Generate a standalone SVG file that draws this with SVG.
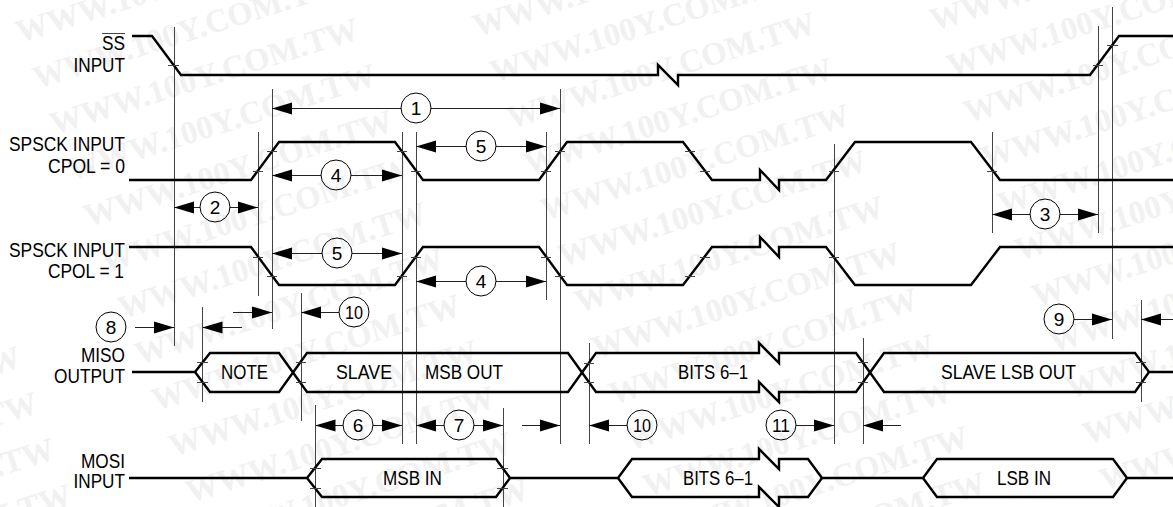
<svg xmlns="http://www.w3.org/2000/svg" width="1173" height="507" viewBox="0 0 1173 507">
<style>
.wm{font:bold 32.5px "Liberation Serif",serif;fill:#f1f1f1}
.wave{fill:none;stroke:#000;stroke-width:2.4;stroke-linejoin:miter}
.ext{fill:none;stroke:#444;stroke-width:1;shape-rendering:crispEdges}
.tick{fill:none;stroke:#444;stroke-width:1;shape-rendering:crispEdges}
.dim{fill:none;stroke:#222;stroke-width:1}
.lab{font:19.5px "Liberation Sans",Arial,sans-serif;fill:#000}
.num{font:19px "Liberation Sans",Arial,sans-serif;fill:#000;text-anchor:middle}
.num2{font:19px "Liberation Sans",Arial,sans-serif;fill:#000}
.bub{fill:#fff;fill-opacity:0;stroke:#000;stroke-width:1}
</style>
<defs>
<marker id="ah" markerUnits="userSpaceOnUse" markerWidth="20" markerHeight="14" refX="20" refY="7" orient="auto-start-reverse"><polygon points="0,1 20,7 0,13" fill="#000"/></marker>
</defs>
<rect width="1173" height="507" fill="#fff"/>
<g id="watermark">
<text class="wm" transform="translate(20,43) rotate(-17.500)">WWW.100Y.COM.TW</text>
<text class="wm" transform="translate(37,89) rotate(-17.500)">WWW.100Y.COM.TW</text>
<text class="wm" transform="translate(54,135) rotate(-17.500)">WWW.100Y.COM.TW</text>
<text class="wm" transform="translate(71,181) rotate(-17.500)">WWW.100Y.COM.TW</text>
<text class="wm" transform="translate(88,227) rotate(-17.500)">WWW.100Y.COM.TW</text>
<text class="wm" transform="translate(105,273) rotate(-17.500)">WWW.100Y.COM.TW</text>
<text class="wm" transform="translate(122,319) rotate(-17.500)">WWW.100Y.COM.TW</text>
<text class="wm" transform="translate(139,365) rotate(-17.500)">WWW.100Y.COM.TW</text>
<text class="wm" transform="translate(156,411) rotate(-17.500)">WWW.100Y.COM.TW</text>
<text class="wm" transform="translate(173,457) rotate(-17.500)">WWW.100Y.COM.TW</text>
<text class="wm" transform="translate(190,503) rotate(-17.500)">WWW.100Y.COM.TW</text>
<text class="wm" transform="translate(207,549) rotate(-17.500)">WWW.100Y.COM.TW</text>
<text class="wm" transform="translate(224,595) rotate(-17.500)">WWW.100Y.COM.TW</text>
<text class="wm" transform="translate(477,37) rotate(-17.500)">WWW.100Y.COM.TW</text>
<text class="wm" transform="translate(494,83) rotate(-17.500)">WWW.100Y.COM.TW</text>
<text class="wm" transform="translate(511,129) rotate(-17.500)">WWW.100Y.COM.TW</text>
<text class="wm" transform="translate(528,175) rotate(-17.500)">WWW.100Y.COM.TW</text>
<text class="wm" transform="translate(545,221) rotate(-17.500)">WWW.100Y.COM.TW</text>
<text class="wm" transform="translate(562,267) rotate(-17.500)">WWW.100Y.COM.TW</text>
<text class="wm" transform="translate(579,313) rotate(-17.500)">WWW.100Y.COM.TW</text>
<text class="wm" transform="translate(596,359) rotate(-17.500)">WWW.100Y.COM.TW</text>
<text class="wm" transform="translate(613,405) rotate(-17.500)">WWW.100Y.COM.TW</text>
<text class="wm" transform="translate(630,451) rotate(-17.500)">WWW.100Y.COM.TW</text>
<text class="wm" transform="translate(647,497) rotate(-17.500)">WWW.100Y.COM.TW</text>
<text class="wm" transform="translate(664,543) rotate(-17.500)">WWW.100Y.COM.TW</text>
<text class="wm" transform="translate(681,589) rotate(-17.500)">WWW.100Y.COM.TW</text>
<text class="wm" transform="translate(934,31) rotate(-17.500)">WWW.100Y.COM.TW</text>
<text class="wm" transform="translate(951,77) rotate(-17.500)">WWW.100Y.COM.TW</text>
<text class="wm" transform="translate(968,123) rotate(-17.500)">WWW.100Y.COM.TW</text>
<text class="wm" transform="translate(985,169) rotate(-17.500)">WWW.100Y.COM.TW</text>
<text class="wm" transform="translate(1002,215) rotate(-17.500)">WWW.100Y.COM.TW</text>
<text class="wm" transform="translate(1019,261) rotate(-17.500)">WWW.100Y.COM.TW</text>
<text class="wm" transform="translate(1036,307) rotate(-17.500)">WWW.100Y.COM.TW</text>
<text class="wm" transform="translate(1053,353) rotate(-17.500)">WWW.100Y.COM.TW</text>
<text class="wm" transform="translate(1070,399) rotate(-17.500)">WWW.100Y.COM.TW</text>
<text class="wm" transform="translate(1087,445) rotate(-17.500)">WWW.100Y.COM.TW</text>
<text class="wm" transform="translate(1104,491) rotate(-17.500)">WWW.100Y.COM.TW</text>
<text class="wm" transform="translate(-301,417) rotate(-17.500)">WWW.100Y.COM.TW</text>
<text class="wm" transform="translate(-284,463) rotate(-17.500)">WWW.100Y.COM.TW</text>
<text class="wm" transform="translate(-267,509) rotate(-17.500)">WWW.100Y.COM.TW</text>
<text class="wm" transform="translate(-250,555) rotate(-17.500)">WWW.100Y.COM.TW</text>
<text class="wm" transform="translate(-233,601) rotate(-17.500)">WWW.100Y.COM.TW</text>
</g>
<g id="connectors">
<path class="ext" d="M174 27V346M258 132V296M272 89V329M202.500 307V402M301 293V421M315.500 405V507M402 132V444M416 132V444M546 132V300M560 89V444M503 408V507M589 343V444M834 144V444M863 338V444M992 132V233M1098 26V233M1112 7V339M1141 300V402"/>
<g class="dim">
<path marker-end="url(#ah)" d="M401 108.500H272"/><path marker-end="url(#ah)" d="M431 108.500H560"/>
<path marker-end="url(#ah)" d="M200 207.500H174"/><path marker-end="url(#ah)" d="M230 207.500H258"/>
<path marker-end="url(#ah)" d="M321 175.500H272"/><path marker-end="url(#ah)" d="M351 175.500H402"/>
<path marker-end="url(#ah)" d="M466 146.500H416"/><path marker-end="url(#ah)" d="M496 146.500H546"/>
<path marker-end="url(#ah)" d="M322 253.500H272"/><path marker-end="url(#ah)" d="M352 253.500H402"/>
<path marker-end="url(#ah)" d="M466 281.500H416"/><path marker-end="url(#ah)" d="M496 281.500H546"/>
<path marker-end="url(#ah)" d="M1030 214.500H992"/><path marker-end="url(#ah)" d="M1060 214.500H1098"/>
<path marker-end="url(#ah)" d="M135 327.500H174"/><path marker-end="url(#ah)" d="M242 327.500H202.500"/>
<path marker-end="url(#ah)" d="M233 312.500H272"/><path marker-end="url(#ah)" d="M339 312.500H301"/>
<path marker-end="url(#ah)" d="M1074 319.500H1112"/><path marker-end="url(#ah)" d="M1173 319.500H1141"/>
<path marker-end="url(#ah)" d="M343 425.500H315.500"/><path marker-end="url(#ah)" d="M373 425.500H402"/>
<path marker-end="url(#ah)" d="M444 425.500H416"/><path marker-end="url(#ah)" d="M474 425.500H503"/>
<path marker-end="url(#ah)" d="M522 425.500H560"/><path marker-end="url(#ah)" d="M627 425.500H589"/>
<path marker-end="url(#ah)" d="M796 425.500H834"/><path marker-end="url(#ah)" d="M901 425.500H863"/>
</g>
<g id="dimension-labels">
<circle class="bub" cx="416" cy="108" r="15"/><text class="num" x="416" y="115">1</text>
<circle class="bub" cx="215" cy="207" r="15"/><text class="num" x="215" y="214">2</text>
<circle class="bub" cx="1045" cy="214" r="15"/><text class="num" x="1045" y="221">3</text>
<circle class="bub" cx="336" cy="175" r="15"/><text class="num" x="336" y="182">4</text>
<circle class="bub" cx="481" cy="146" r="15"/><text class="num" x="481" y="153">5</text>
<circle class="bub" cx="337" cy="253" r="15"/><text class="num" x="337" y="260">5</text>
<circle class="bub" cx="481" cy="281" r="15"/><text class="num" x="481" y="288">4</text>
<circle class="bub" cx="111" cy="327" r="15"/><text class="num" x="111" y="334">8</text>
<circle class="bub" cx="354" cy="312" r="15"/><text class="num2" x="345" y="319" textLength="18" lengthAdjust="spacingAndGlyphs">10</text>
<circle class="bub" cx="1059" cy="319" r="15"/><text class="num" x="1059" y="326">9</text>
<circle class="bub" cx="358" cy="425" r="15"/><text class="num" x="358" y="432">6</text>
<circle class="bub" cx="459" cy="425" r="15"/><text class="num" x="459" y="432">7</text>
<circle class="bub" cx="642" cy="425" r="15"/><text class="num2" x="633" y="432" textLength="18" lengthAdjust="spacingAndGlyphs">10</text>
<circle class="bub" cx="781" cy="425" r="15"/><text class="num2" x="772" y="432" textLength="18" lengthAdjust="spacingAndGlyphs">11</text>
</g>
</g>
<g id="ss-input">
<path class="wave" d="M132 36H152L181 75H658V65L678 85V75H1090L1119 36H1173"/>
<path class="tick" d="M168 65H179M1093 65H1103M1107 45H1118"/>
<text class="lab" x="102" y="50" textLength="23" lengthAdjust="spacingAndGlyphs">SS</text>
<path class="tick" d="M102 33H125"/>
<text class="lab" x="73.500" y="72" textLength="51.500" lengthAdjust="spacingAndGlyphs">INPUT</text>
</g>
<g id="spsck-cpol0">
<path class="wave" d="M129 180H251L279 142H395L423 180H539L567 142H683L712 180H760V170L779 190V180H826L855 142H971L1000 180H1173"/>
<path class="tick" d="M253 171H263M267 151H277M397 151H407M411 171H421M541 171H551M555 151H565M685 151H695M700 171H710M829 171H839M987 171H997"/>
<text class="lab" x="9" y="151" textLength="116" lengthAdjust="spacingAndGlyphs">SPSCK INPUT</text>
<text class="lab" x="48" y="173" textLength="77" lengthAdjust="spacingAndGlyphs">CPOL = 0</text>
</g>
<g id="spsck-cpol1">
<path class="wave" d="M129 247H251L279 285H395L423 247H539L567 285H683L712 247H760V237L779 257V247H826L855 285H971L1000 247H1173"/>
<path class="tick" d="M253 257H263M267 276H277M397 276H407M411 257H421M541 257H551M555 276H565M685 276H695M700 257H710M829 257H839"/>
<text class="lab" x="9" y="257" textLength="116" lengthAdjust="spacingAndGlyphs">SPSCK INPUT</text>
<text class="lab" x="48" y="278" textLength="76" lengthAdjust="spacingAndGlyphs">CPOL = 1</text>
</g>
<g id="miso-output">
<path class="wave" d="M132 372H195L210 353H279L307 392H568L596 353H759V343L779 363V353H856L884 392H1135L1149 372H1173"/>
<path class="wave" d="M195 372L210 392H279L307 353H568L596 392H759V382L779 402V392H856L884 353H1135L1149 372"/>
<path class="tick" d="M197 362H208M197 382H208M296 362H306M296 382H306M584 363H594M584 382H594M858 362H868M858 382H868M1136 362H1146M1136 382H1146"/>
<text class="lab" x="81" y="362" textLength="44" lengthAdjust="spacingAndGlyphs">MISO</text>
<text class="lab" x="54" y="383" textLength="71" lengthAdjust="spacingAndGlyphs">OUTPUT</text>
<text class="lab" x="221" y="379" textLength="47" lengthAdjust="spacingAndGlyphs">NOTE</text>
<text class="lab" x="336" y="379" textLength="56" lengthAdjust="spacingAndGlyphs">SLAVE</text>
<text class="lab" x="425" y="379" textLength="78" lengthAdjust="spacingAndGlyphs">MSB OUT</text>
<text class="lab" x="678" y="379" textLength="70" lengthAdjust="spacingAndGlyphs">BITS 6–1</text>
<text class="lab" x="941" y="379" textLength="135" lengthAdjust="spacingAndGlyphs">SLAVE LSB OUT</text>
</g>
<g id="mosi-input">
<path class="wave" d="M129 478H307L322 459H496L510 478H618L632 459H759V449L779 469V459H808L822 478H923L937 459H1113L1127 478H1173"/>
<path class="wave" d="M307 478L322 497H496L510 478M618 478L632 497H759V487L779 507V497H808L822 478M923 478L937 497H1113L1127 478"/>
<path class="tick" d="M310 468H321M310 488H321M497 468H508M497 488H508"/>
<text class="lab" x="81" y="468" textLength="44" lengthAdjust="spacingAndGlyphs">MOSI</text>
<text class="lab" x="73.500" y="488" textLength="51.500" lengthAdjust="spacingAndGlyphs">INPUT</text>
<text class="lab" x="383" y="485" textLength="59" lengthAdjust="spacingAndGlyphs">MSB IN</text>
<text class="lab" x="683" y="485" textLength="70" lengthAdjust="spacingAndGlyphs">BITS 6–1</text>
<text class="lab" x="997" y="485" textLength="54" lengthAdjust="spacingAndGlyphs">LSB IN</text>
</g>
</svg>
